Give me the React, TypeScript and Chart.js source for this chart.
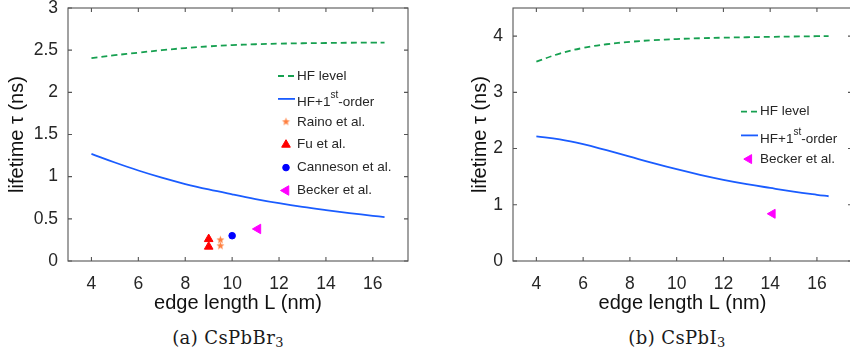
import React, { useEffect, useRef } from 'react';
import { Chart, registerables } from 'chart.js';
import { drawPoint } from 'chart.js/helpers';

Chart.register(...registerables);

// ---------- data ----------
const edgeLength = [4, 5, 6, 7, 8, 9, 10, 11, 12, 13, 14, 15, 16, 16.5];
const hfBr = [2.405, 2.44, 2.47, 2.5, 2.525, 2.545, 2.56, 2.57, 2.577, 2.582, 2.585, 2.588, 2.59, 2.59];
const hfFirstBr = [1.27, 1.168, 1.073, 0.988, 0.913, 0.848, 0.79, 0.735, 0.685, 0.641, 0.603, 0.568, 0.536, 0.521];
const hfI = [3.545, 3.69, 3.79, 3.855, 3.898, 3.928, 3.948, 3.962, 3.972, 3.98, 3.987, 3.993, 3.998, 4.0];
const hfFirstI = [2.215, 2.165, 2.08, 1.97, 1.855, 1.74, 1.632, 1.533, 1.445, 1.368, 1.3, 1.235, 1.178, 1.152];

const rainoL = [9.5, 9.5];
const rainoTau = [0.25, 0.18];
const fuL = [9, 9];
const fuTau = [0.26, 0.17];
const cannesonL = [10];
const cannesonTau = [0.3];
const beckerBrL = [11.1];
const beckerBrTau = [0.38];
const beckerIL = [14.1];
const beckerITau = [0.84];

const xTickValues = [4, 6, 8, 10, 12, 14, 16];
const yTickValuesBr = [0, 0.5, 1, 1.5, 2, 2.5, 3];
const yTickValuesI = [0, 1, 2, 3, 4];

// ---------- styles ----------
const GREEN = '#16a050';
const BLUE = '#1a5cff';
const ORANGE = '#ff8040';
const RED = '#ff0000';
const DOTBLUE = '#0000ff';
const MAGENTA = '#ff00ff';
const SANS = '"Liberation Sans", Arial, sans-serif';

const pts = (xs: number[], ys: number[]) => xs.map((x, i) => ({ x, y: ys[i] }));

function pentagram(color: string, r: number) {
  const c = document.createElement('canvas');
  const s = Math.ceil(2 * r + 2);
  c.width = s;
  c.height = s;
  const ctx = c.getContext('2d')!;
  ctx.fillStyle = color;
  ctx.beginPath();
  for (let i = 0; i < 10; i++) {
    const rr = i % 2 === 0 ? r : r * 0.42;
    const a = -Math.PI / 2 + (i * Math.PI) / 5;
    const px = s / 2 + rr * Math.cos(a);
    const py = s / 2 + rr * Math.sin(a);
    if (i === 0) ctx.moveTo(px, py);
    else ctx.lineTo(px, py);
  }
  ctx.closePath();
  ctx.fill();
  return c;
}

const legendPlugin = {
  id: 'boxLegend',
  afterDraw(chart: any, _args: any, opts: any) {
    const { ctx, chartArea } = chart;
    const x0 = chartArea.left + opts.dx;
    let y = chartArea.top + opts.dy;
    chart.data.datasets.forEach((ds: any) => {
      ctx.save();
      if (ds.showLine) {
        ctx.strokeStyle = ds.borderColor;
        ctx.lineWidth = ds.borderWidth;
        ctx.setLineDash(ds.borderDash || []);
        ctx.beginPath();
        ctx.moveTo(x0, y);
        ctx.lineTo(x0 + 17, y);
        ctx.stroke();
      } else {
        ctx.fillStyle = ds.backgroundColor;
        ctx.strokeStyle = ds.borderColor;
        ctx.lineWidth = 1;
        drawPoint(ctx, { pointStyle: ds.pointStyle, rotation: ds.pointRotation || 0, radius: ds.pointRadius, borderWidth: ds.pointBorderWidth || 0 } as any, x0 + 8, y);
      }
      ctx.setLineDash([]);
      const parts = String(ds.label).split(/\^(\w+)/);
      const hasSup = parts.length > 1;
      const ty = y + (hasSup ? 3.5 : 0);
      let tx = x0 + 19;
      ctx.fillStyle = '#262626';
      ctx.textBaseline = 'middle';
      ctx.textAlign = 'left';
      parts.forEach((p: string, i: number) => {
        if (i % 2 === 1) {
          ctx.font = `10px ${SANS}`;
          ctx.fillText(p, tx, ty - 7);
        } else {
          ctx.font = `13.5px ${SANS}`;
          ctx.fillText(p, tx, ty);
        }
        tx += ctx.measureText(p).width;
      });
      ctx.restore();
      y += opts.spacing;
    });
  },
};

const axesBoxPlugin = {
  id: 'axesBox',
  afterDraw(chart: any) {
    const { ctx, chartArea: a, scales } = chart;
    const xs = scales.x;
    const ys = scales.y;
    const L = 4;
    ctx.save();
    ctx.strokeStyle = '#555555';
    ctx.lineWidth = 1.1;
    ctx.strokeRect(a.left, a.top, a.right - a.left, a.bottom - a.top);
    ctx.beginPath();
    xs.ticks.forEach((t: any) => {
      const px = xs.getPixelForValue(t.value);
      ctx.moveTo(px, a.bottom);
      ctx.lineTo(px, a.bottom - L);
      ctx.moveTo(px, a.top);
      ctx.lineTo(px, a.top + L);
    });
    ys.ticks.forEach((t: any) => {
      const py = ys.getPixelForValue(t.value);
      ctx.moveTo(a.left, py);
      ctx.lineTo(a.left + L, py);
      ctx.moveTo(a.right, py);
      ctx.lineTo(a.right - L, py);
    });
    ctx.stroke();
    ctx.restore();
  },
};

function lineDataset(label: string, ys: number[], color: string, dash: number[]) {
  return {
    label,
    data: pts(edgeLength, ys),
    showLine: true,
    borderColor: color,
    backgroundColor: color,
    borderWidth: 1.8,
    borderDash: dash,
    pointRadius: 0,
    tension: 0.4,
    fill: false,
  };
}

function pointDataset(label: string, xs: number[], ys: number[], color: string, style: any, radius: number, rotation = 0) {
  return {
    label,
    data: pts(xs, ys),
    showLine: false,
    borderColor: color,
    backgroundColor: color,
    pointBackgroundColor: color,
    pointBorderColor: color,
    pointBorderWidth: 1,
    pointStyle: style,
    pointRadius: radius,
    pointRotation: rotation,
  };
}

function makeConfig(opts: {
  datasets: any[];
  yMax: number;
  yTicks: number[];
  yWidth: number;
  padRight: number;
  yTitlePad: number;
  legendDx: number;
  legendDy: number;
  legendSpacing: number;
}) {
  return {
    type: 'scatter',
    data: { datasets: opts.datasets },
    plugins: [axesBoxPlugin, legendPlugin],
    options: {
      animation: false,
      responsive: false,
      devicePixelRatio: 1,
      layout: { padding: { left: 0, top: 8, right: opts.padRight, bottom: 0 } },
      plugins: {
        legend: { display: false },
        tooltip: { enabled: false },
        boxLegend: { dx: opts.legendDx, dy: opts.legendDy, spacing: opts.legendSpacing },
      },
      scales: {
        x: {
          type: 'linear',
          min: 3,
          max: 17.5,
          grid: { display: false, drawTicks: false },
          border: { display: false },
          ticks: {
            color: '#262626',
            font: { family: SANS, size: 17.5 },
            padding: 13,
            maxRotation: 0,
            callback: (v: any) => String(v),
          },
          afterBuildTicks: (s: any) => {
            s.ticks = xTickValues.map((v) => ({ value: v }));
          },
          afterFit: (s: any) => {
            s.height = 59;
            s.paddingLeft = 0;
            s.paddingRight = 0;
          },
          title: {
            display: true,
            text: 'edge length L (nm)',
            color: '#111111',
            font: { family: SANS, size: 20 },
            padding: { top: 0, bottom: 4.5 },
          },
        },
        y: {
          type: 'linear',
          min: 0,
          max: opts.yMax,
          grid: { display: false, drawTicks: false },
          border: { display: false },
          ticks: {
            color: '#262626',
            font: { family: SANS, size: 17.5 },
            padding: 10,
            callback: (v: any) => String(v),
          },
          afterBuildTicks: (s: any) => {
            s.ticks = opts.yTicks.map((v) => ({ value: v }));
          },
          afterFit: (s: any) => {
            s.width = opts.yWidth;
            s.paddingTop = 0;
            s.paddingBottom = 0;
          },
          title: {
            display: true,
            text: 'lifetime τ (ns)',
            color: '#111111',
            font: { family: SANS, size: 20 },
            padding: { top: opts.yTitlePad, bottom: 0 },
          },
        },
      },
    },
  };
}

function ChartCanvas({ build, left, width }: { build: () => any; left: number; width: number }) {
  const ref = useRef<HTMLCanvasElement | null>(null);
  useEffect(() => {
    const chart = new Chart(ref.current as HTMLCanvasElement, build());
    return () => chart.destroy();
  }, []);
  return (
    <canvas
      ref={ref}
      width={width}
      height={320}
      style={{ position: 'absolute', left, top: 0, width, height: 320 }}
    />
  );
}

const buildBr = () =>
  makeConfig({
    datasets: [
      lineDataset('HF level', hfBr, GREEN, [6, 4]),
      lineDataset('HF+1^st-order', hfFirstBr, BLUE, []),
      pointDataset('Raino et al.', rainoL, rainoTau, ORANGE, pentagram(ORANGE, 4.2), 4),
      pointDataset('Fu et al.', fuL, fuTau, RED, 'triangle', 5),
      pointDataset('Canneson et al.', cannesonL, cannesonTau, DOTBLUE, 'circle', 3.3),
      pointDataset('Becker et al.', beckerBrL, beckerBrTau, MAGENTA, 'triangle', 5.5, -90),
    ],
    yMax: 3,
    yTicks: yTickValuesBr,
    yWidth: 68,
    padRight: 12,
    yTitlePad: 5,
    legendDx: 210,
    legendDy: 68,
    legendSpacing: 22.9,
  });

const buildI = () =>
  makeConfig({
    datasets: [
      lineDataset('HF level', hfI, GREEN, [6, 4]),
      lineDataset('HF+1^st-order', hfFirstI, BLUE, []),
      pointDataset('Becker et al.', beckerIL, beckerITau, MAGENTA, 'triangle', 5.2, -90),
    ],
    yMax: 4.5,
    yTicks: yTickValuesI,
    yWidth: 93,
    padRight: 8,
    yTitlePad: 48,
    legendDx: 228,
    legendDy: 103.7,
    legendSpacing: 23.7,
  });

const captionStyle: React.CSSProperties = {
  position: 'absolute',
  top: 327,
  textAlign: 'center',
  fontFamily: '"DejaVu Serif", "Liberation Serif", serif',
  fontSize: 18,
  lineHeight: '22px',
  letterSpacing: '0.4px',
  color: '#1a1a1a',
  whiteSpace: 'nowrap',
};

const subStyle: React.CSSProperties = { fontSize: '0.72em', verticalAlign: '-0.25em', lineHeight: 0 };

export default function App() {
  return (
    <div
      style={{
        position: 'fixed',
        left: 0,
        top: 0,
        width: 850,
        height: 355,
        overflow: 'hidden',
        background: '#ffffff',
      }}
    >
      <ChartCanvas build={buildBr} left={0} width={420} />
      <ChartCanvas build={buildI} left={420} width={440} />
      <div style={{ ...captionStyle, left: 0, width: 456 }}>
        (a) CsPbBr<sub style={subStyle}>3</sub>
      </div>
      <div style={{ ...captionStyle, left: 527, width: 300 }}>
        (b) CsPbI<sub style={subStyle}>3</sub>
      </div>
    </div>
  );
}
